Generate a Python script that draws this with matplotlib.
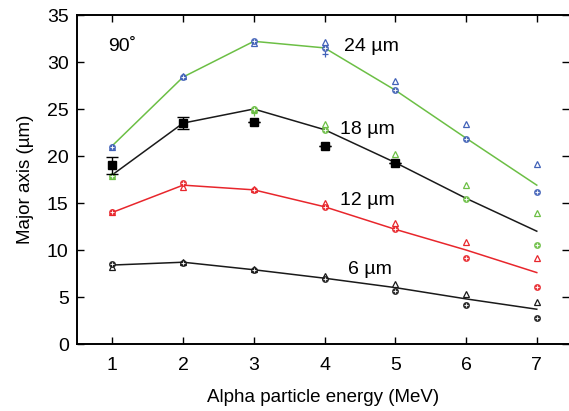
import matplotlib
matplotlib.use("Agg")
import matplotlib.pyplot as plt
import numpy as np

plt.rcParams["font.family"] = ["Liberation Sans", "DejaVu Sans"]

energy = [1, 2, 3, 4, 5, 6, 7]

# calculated curves (lines)
line_24 = [21.1, 28.4, 32.2, 31.5, 27.0, 21.9, 16.9]
line_18 = [18.0, 23.5, 25.0, 22.8, 19.3, 15.5, 12.0]
line_12 = [14.0, 16.9, 16.4, 14.6, 12.2, 10.0, 7.6]
line_6 = [8.4, 8.7, 7.9, 7.0, 6.0, 4.8, 3.7]

# triangle markers
tri_24 = [21.0, 28.5, 32.0, 32.1, 28.0, 23.4, 19.1]
tri_18 = [17.9, 23.5, 25.0, 23.4, 20.2, 16.9, 13.9]
tri_12 = [14.0, 16.7, 16.5, 15.0, 12.9, 10.9, 9.1]
tri_6 = [8.2, 8.7, 8.0, 7.2, 6.35, 5.3, 4.5]

# circle markers
circ_24 = [21.0, 28.4, 32.2, 31.5, 27.0, 21.8, 16.2]
circ_18 = [17.9, 23.4, 25.0, 22.8, 19.3, 15.4, 10.5]
circ_12 = [14.0, 17.1, 16.4, 14.6, 12.2, 9.2, 6.1]
circ_6 = [8.5, 8.6, 7.9, 6.9, 5.6, 4.1, 2.8]

# measured (black squares with error bars)
meas_x = [1, 2, 3, 4, 5]
meas_y = [19.0, 23.5, 23.6, 21.1, 19.3]
meas_err = [0.9, 0.65, 0, 0, 0]

# extra plus markers
plus_x = [4, 3]
plus_y = [30.8, 24.6]

green = "#6cbf45"
red = "#e8262c"
blue = "#4262b8"
black = "#1a1a1a"

fig = plt.figure(figsize=(5.69, 4.11), dpi=100)
ax = fig.add_axes([0.1353, 0.163, 0.864, 0.8005])

series = [
    (line_24, tri_24, circ_24, green, blue),
    (line_18, tri_18, circ_18, black, green),
    (line_12, tri_12, circ_12, red, red),
    (line_6, tri_6, circ_6, black, black),
]

for line, tri, circ, lc, mc in series:
    ax.plot(energy, line, color=lc, linewidth=1.1, zorder=2)
    ax.plot(energy, tri, linestyle="none", marker="^", markersize=4,
            markerfacecolor="white", markeredgecolor=mc, markeredgewidth=0.9, zorder=3)
    ax.plot(energy, circ, linestyle="none", marker="o", markersize=4,
            markerfacecolor=mc, markeredgecolor=mc, alpha=0.85, zorder=4)
    ax.plot(energy, circ, linestyle="none", marker="+", markersize=3,
            markeredgecolor="white", markeredgewidth=0.6, zorder=5)

ax.plot(plus_x[:1], plus_y[:1], linestyle="none", marker="+", markersize=4,
        color=blue, markeredgewidth=0.9, zorder=3)
ax.plot(plus_x[1:], plus_y[1:], linestyle="none", marker="+", markersize=4,
        color=green, markeredgewidth=0.9, zorder=3)

ax.errorbar(meas_x, meas_y, yerr=meas_err, fmt="s", color="black",
            markersize=6, capsize=4, elinewidth=1, capthick=1, zorder=6)

ax.text(0.94, 31.6, "90˚", fontsize=14, va="center", ha="left")
ax.text(4.27, 31.6, "24 µm", fontsize=14, va="center", ha="left")
ax.text(4.22, 22.8, "18 µm", fontsize=14, va="center", ha="left")
ax.text(4.22, 15.3, "12 µm", fontsize=14, va="center", ha="left")
ax.text(4.33, 7.9, "6 µm", fontsize=14, va="center", ha="left")

ax.set_xlim(0.5, 7.45)
ax.set_ylim(0, 35)
ax.set_xticks(energy)
ax.set_yticks(np.arange(0, 36, 5))
ax.tick_params(direction="in", length=5, width=1, labelsize=14,
               top=True, right=True)
ax.tick_params(axis="x", pad=9)
ax.tick_params(axis="y", pad=6)
for s in ["left", "bottom", "top"]:
    ax.spines[s].set_linewidth(1.4)
ax.spines["right"].set_visible(False)

ax.set_xlabel("Alpha particle energy (MeV)", fontsize=13.5, labelpad=11)
ax.set_ylabel("Major axis (µm)", fontsize=13.5, labelpad=9)

fig.savefig("out.png", dpi=100)
